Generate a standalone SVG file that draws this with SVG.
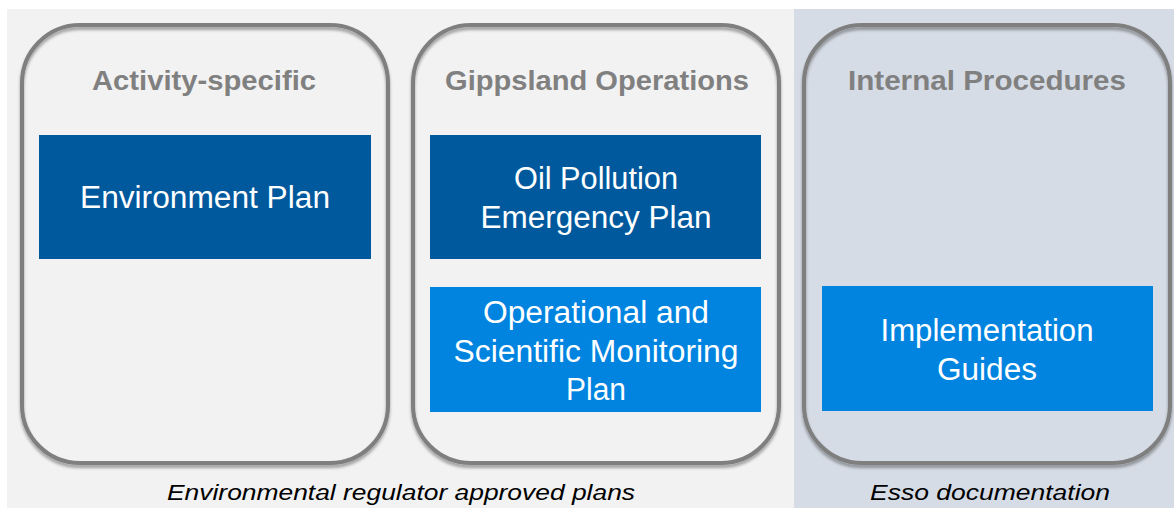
<svg xmlns="http://www.w3.org/2000/svg" width="1174" height="508" viewBox="0 0 1174 508">
<defs>
<filter id="sh" x="-5%" y="-5%" width="110%" height="115%">
<feDropShadow dx="0" dy="3" stdDeviation="1.5" flood-color="#000" flood-opacity="0.35"/>
</filter>
</defs>
<style>
.frame{fill:none;stroke:#7f7f7f;stroke-width:4}
.head{font-family:"Liberation Sans",Arial,sans-serif;font-weight:bold;font-size:28px;fill:#808080;text-anchor:middle}
.lbl{font-family:"Liberation Sans",Arial,sans-serif;font-size:31px;fill:#ffffff;text-anchor:middle}
.dark{fill:#00599d}
.light{fill:#0084e0}
.foot{font-family:"Liberation Sans",Arial,sans-serif;font-style:italic;font-size:22px;fill:#000;text-anchor:middle}
</style>
<rect x="0" y="0" width="1174" height="508" fill="#ffffff"/>
<rect x="7" y="9" width="787" height="499" fill="#f2f2f2"/>
<rect x="794" y="9" width="380" height="499" fill="#d6dce5"/>
<g id="connectors"></g>
<g id="activity-specific">
<rect class="frame" filter="url(#sh)" x="22" y="25" width="366" height="438" rx="58"/>
<text class="head" x="204" y="90" textLength="224" lengthAdjust="spacingAndGlyphs">Activity-specific</text>
</g>
<g id="gippsland-operations">
<rect class="frame" filter="url(#sh)" x="413" y="25" width="366" height="438" rx="58"/>
<text class="head" x="597" y="90" textLength="304" lengthAdjust="spacingAndGlyphs">Gippsland Operations</text>
</g>
<g id="internal-procedures">
<rect class="frame" filter="url(#sh)" x="804" y="25" width="366" height="438" rx="58"/>
<text class="head" x="987" y="90" textLength="278" lengthAdjust="spacingAndGlyphs">Internal Procedures</text>
</g>
<g id="environment-plan">
<rect class="dark" x="39" y="135" width="332" height="124"/>
<text class="lbl" x="205" y="208" textLength="250" lengthAdjust="spacingAndGlyphs">Environment  Plan</text>
</g>
<g id="oil-pollution-emergency-plan">
<rect class="dark" x="430" y="135" width="331" height="124"/>
<text class="lbl" x="596" y="189" textLength="164" lengthAdjust="spacingAndGlyphs">Oil Pollution</text>
<text class="lbl" x="596" y="228" textLength="231" lengthAdjust="spacingAndGlyphs">Emergency Plan</text>
</g>
<g id="osmp">
<rect class="light" x="430" y="287" width="331" height="125"/>
<text class="lbl" x="596" y="323" textLength="226" lengthAdjust="spacingAndGlyphs">Operational and</text>
<text class="lbl" x="596" y="362" textLength="285" lengthAdjust="spacingAndGlyphs">Scientific Monitoring</text>
<text class="lbl" x="596" y="400" textLength="60" lengthAdjust="spacingAndGlyphs">Plan</text>
</g>
<g id="implementation-guides">
<rect class="light" x="822" y="286" width="331" height="125"/>
<text class="lbl" x="987" y="341" textLength="213" lengthAdjust="spacingAndGlyphs">Implementation</text>
<text class="lbl" x="987" y="380" textLength="100" lengthAdjust="spacingAndGlyphs">Guides</text>
</g>
<text class="foot" x="401" y="500" textLength="468" lengthAdjust="spacingAndGlyphs">Environmental regulator approved plans</text>
<text class="foot" x="990" y="500" textLength="240" lengthAdjust="spacingAndGlyphs">Esso documentation</text>
</svg>
